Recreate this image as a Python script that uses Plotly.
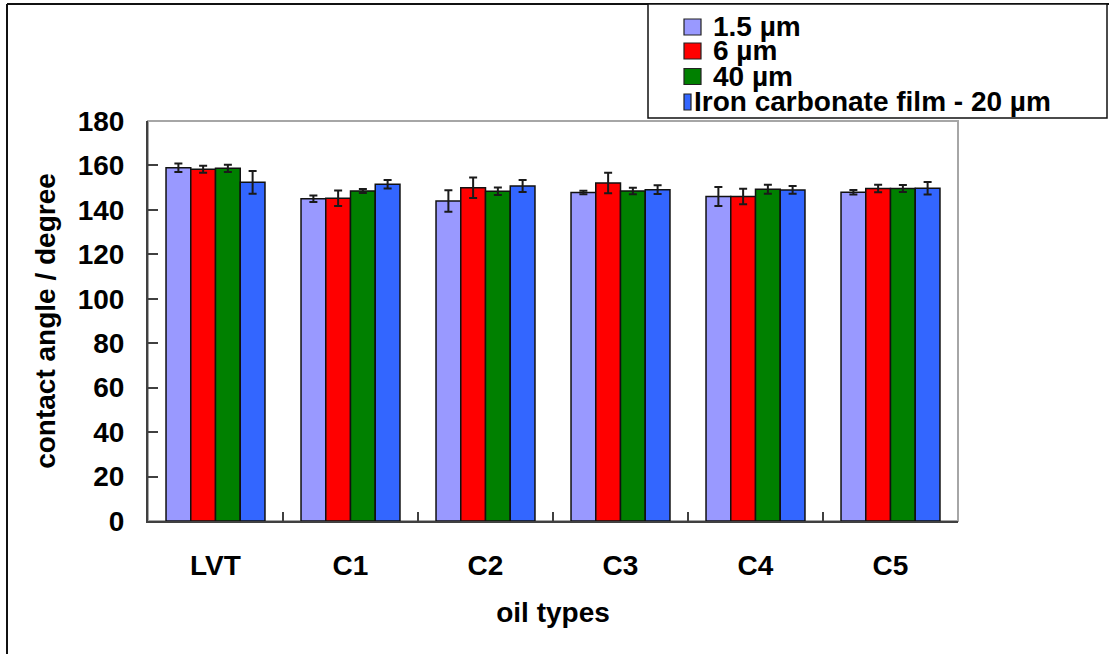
import plotly.graph_objects as go

# Contact angle of each oil type on the four surfaces
categories = ["LVT", "C1", "C2", "C3", "C4", "C5"]
series_names = ["1.5 µm", "6 µm", "40 µm", "Iron carbonate film - 20 µm"]

angle_1_5um = [159.0, 145.0, 144.0, 147.8, 146.0, 147.9]
angle_6um = [158.3, 145.2, 150.0, 152.1, 146.0, 149.6]
angle_40um = [158.7, 148.5, 148.4, 148.5, 149.3, 149.6]
angle_film = [152.4, 151.5, 150.8, 149.1, 149.0, 149.7]

err_1_5um = [1.9, 1.5, 4.8, 0.8, 4.3, 1.0]
err_6um = [1.6, 3.5, 4.6, 4.6, 3.5, 1.7]
err_40um = [1.6, 0.9, 1.7, 1.5, 2.0, 1.6]
err_film = [5.1, 1.9, 2.7, 2.0, 1.7, 2.8]

values = [angle_1_5um, angle_6um, angle_40um, angle_film]
errors = [err_1_5um, err_6um, err_40um, err_film]
colors = ["#9999FF", "#FF0000", "#008000", "#3366FF"]

W, H = 1109, 654
L, R, T, B = 148, 958, 121, 521  # plot area edges in pixels

FONT = "Liberation Sans, Arial, Helvetica, sans-serif"


def px(x):
    return (x - L) / (R - L)


def py(y):
    return (B - y) / (B - T)


fig = go.Figure()
for name, vals, errs, col in zip(series_names, values, errors, colors):
    fig.add_trace(go.Bar(
        x=categories, y=vals, name=name,
        marker=dict(color=col, line=dict(color="#111111", width=1.5)),
        error_y=dict(type="data", array=errs, visible=True,
                     color="#1a1a1a", thickness=2, width=4),
        showlegend=False,
    ))

shapes = [
    # plot-area frame
    dict(type="rect", xref="paper", yref="paper", x0=0, x1=1, y0=0, y1=1,
         line=dict(color="#a6a6a6", width=2), layer="below"),
    # outer figure frame (left and top edges)
    dict(type="line", xref="paper", yref="paper", x0=px(7), x1=px(7),
         y0=py(4), y1=py(H + 5), line=dict(color="#111111", width=2)),
    dict(type="line", xref="paper", yref="paper", x0=px(7), x1=px(W + 5),
         y0=py(4), y1=py(4), line=dict(color="#111111", width=2)),
    # legend box
    dict(type="rect", xref="paper", yref="paper", x0=px(648), x1=px(1107),
         y0=py(118), y1=py(4), line=dict(color="#111111", width=1.5),
         fillcolor="white"),
]

# legend rows: swatch + label (the long last label runs over its swatch)
annotations = []
row_y = [27, 51, 76.5, 102]
text_x = [712, 712, 712, 693]
swatch_right = [701, 701, 701, 691]
for i, (name, col) in enumerate(zip(series_names, colors)):
    shapes.append(dict(type="rect", xref="paper", yref="paper",
                       x0=px(684), x1=px(swatch_right[i]),
                       y0=py(row_y[i] + 8), y1=py(row_y[i] - 8),
                       fillcolor=col, line=dict(color="#222222", width=1.2)))
    annotations.append(dict(
        xref="paper", yref="paper", x=px(text_x[i]), y=py(row_y[i]),
        xanchor="left", yanchor="middle", showarrow=False,
        text=name, borderpad=0,
        font=dict(family=FONT, size=28, color="black", weight="bold"),
    ))

fig.update_layout(
    width=W, height=H,
    margin=dict(l=L, r=W - R, t=T, b=H - B, autoexpand=False),
    paper_bgcolor="white", plot_bgcolor="white",
    barmode="group", bargap=0.267, bargroupgap=0,
    font=dict(family=FONT, size=28, color="black", weight="bold"),
    shapes=shapes, annotations=annotations,
    showlegend=False,
)

fig.update_xaxes(
    type="category", showline=True, linecolor="#404040", linewidth=2,
    ticks="inside", tickson="boundaries", ticklen=9, tickcolor="#404040", tickwidth=1.5,
    ticklabelstandoff=18, showgrid=False, automargin=False,
    tickfont=dict(family=FONT, size=28, weight="bold"),
    title=dict(text="oil types", standoff=23,
               font=dict(family=FONT, size=28, weight="bold")),
)
fig.update_yaxes(
    range=[0, 180], dtick=20, showline=True, linecolor="#404040", linewidth=2,
    ticks="inside", ticklen=10, tickcolor="#404040", tickwidth=1.5,
    ticklabelstandoff=16, showgrid=False, zeroline=False, automargin=False,
    tickfont=dict(family=FONT, size=28, weight="bold"),
    title=dict(text="contact angle / degree", standoff=14,
               font=dict(family=FONT, size=28, weight="bold")),
)

fig.write_html("out.html")
